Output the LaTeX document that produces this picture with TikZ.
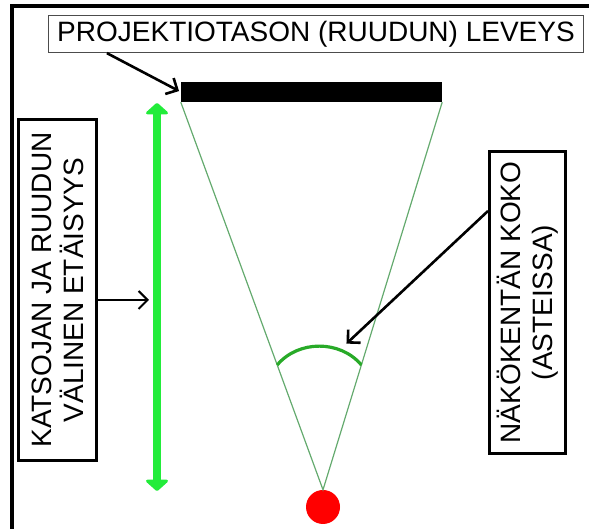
\documentclass[tikz,border=0pt]{standalone}
\usepackage{fontspec}
\setmainfont{Liberation Sans}
\usetikzlibrary{arrows.meta,calc}

\definecolor{kirkasvihrea}{RGB}{34,236,58}
\definecolor{sadevihrea}{RGB}{100,170,110}
\definecolor{kaarivihrea}{RGB}{40,170,40}

\begin{document}
\begin{tikzpicture}[x=1pt, y=1pt, >={Straight Barb[length=9pt,width=18pt]},
    teksti/.style={font=\fontsize{28}{32}\selectfont, align=center, inner sep=0pt},
    laatikko/.style={teksti, draw, line width=3pt},
    osoitin/.style={->, line width=2.6pt, shorten >=2pt},
    sade/.style={sadevihrea, line width=1.2pt},
    kaari/.style={kaarivihrea, line width=3.2pt},
    mitta/.style={{Triangle[round,length=12pt,width=26pt]}-{Triangle[round,length=12pt,width=26pt]},
      kirkasvihrea, line width=8pt}]
    \useasboundingbox (0,0) rectangle (589,529);

    % Kehys vasemmalla ja ylhaalla
    \draw[line width=4pt] (12,0) -- (12,523) -- (589,523);

    % Projektiotaso eli ruutu
    \node[teksti, draw=black!70, line width=1.2pt, minimum width=535, minimum height=37]
      (leveys) at (316,495) {PROJEKTIOTASON (RUUDUN) LEVEYS};
    \node[fill=black, inner sep=0pt, minimum width=261, minimum height=20] (ruutu) at (311.5,437) {};
    \draw[osoitin] ($(leveys.south west)!0.11!(leveys.south east)$) -- (ruutu.west);

    % Katsoja ja nakokentta
    \node[circle, fill=red, inner sep=0pt, minimum size=34] (silma) at (323,22) {};
    \draw[sade] (ruutu.south west) -- (silma.north) -- (ruutu.south east);
    \draw[kaari] ($(ruutu.south west)!0.678!(silma.north)$) to[bend left=50]
      ($(ruutu.south east)!0.678!(silma.north)$);

    % Etaisyys
    \coordinate (mittaylos) at (157,426);
    \coordinate (mittaalas) at (157,38);
    \draw[mitta] (mittaalas) -- (mittaylos);
    \node[laatikko, rotate=90, minimum width=341, minimum height=78]
      (etaisyys) at (57.5,239) {KATSOJAN JA RUUDUN\\VÄLINEN ETÄISYYS};
    \coordinate (vasenkarki) at ([yshift=-10pt]etaisyys.south);
    \draw[osoitin, line width=2pt, shorten >=8pt] (vasenkarki) -- (vasenkarki -| mittaalas);

    % Nakokentan koko
    \node[laatikko, rotate=90, minimum width=302, minimum height=76]
      (koko) at (527.5,226.5) {NÄKÖKENTÄN KOKO\\(ASTEISSA)};
    \coordinate (kaarenkohta) at (345,184);
    \draw[osoitin] ($(koko.north east)!0.2!(koko.north west)$) -- (kaarenkohta);
\end{tikzpicture}
\end{document}
